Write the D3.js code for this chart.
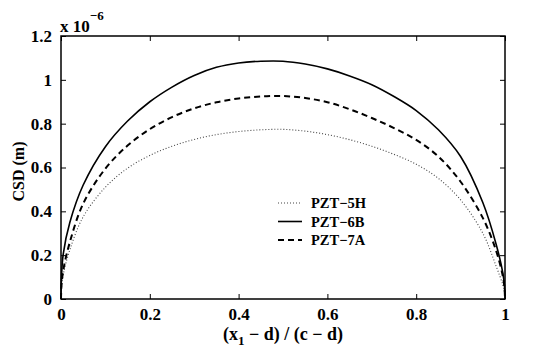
<!DOCTYPE html>
<html>
<head>
<meta charset="utf-8">
<script src="https://cdn.jsdelivr.net/npm/d3@7"></script>
<style>
  body { margin: 0; background: #fff; }
  text { font-family: "Liberation Serif", "Times New Roman", serif; font-weight: bold; fill: #000; }
</style>
</head>
<body>
<div id="chart-container"></div>
<script>
// normalised crack position (x1 - d) / (c - d)
const positions = [0, 0.001, 0.005, 0.02, 0.05, 0.1, 0.15, 0.2, 0.25, 0.3, 0.35, 0.4, 0.45, 0.5,
  0.55, 0.6, 0.65, 0.7, 0.75, 0.8, 0.85, 0.9, 0.95, 0.98, 0.995, 0.999, 1];

// CSD in units of 1e-6 m
const pzt5H = [0, 0.05, 0.11, 0.225, 0.375, 0.51, 0.597, 0.655, 0.697, 0.728, 0.75, 0.764, 0.772, 0.774,
  0.766, 0.75, 0.727, 0.697, 0.66, 0.615, 0.55, 0.452, 0.30, 0.15, 0.065, 0.03, 0];
const pzt6B = [0, 0.094, 0.205, 0.35, 0.52, 0.695, 0.812, 0.90, 0.967, 1.02, 1.057, 1.077, 1.085, 1.085,
  1.072, 1.05, 1.018, 0.978, 0.924, 0.86, 0.772, 0.65, 0.44, 0.25, 0.12, 0.055, 0];
const pzt7A = [0, 0.058, 0.13, 0.26, 0.435, 0.595, 0.70, 0.775, 0.83, 0.87, 0.8975, 0.915, 0.924, 0.926,
  0.917, 0.898, 0.866, 0.826, 0.78, 0.726, 0.65, 0.535, 0.37, 0.22, 0.105, 0.047, 0];

const seriesNames = ["PZT\u22125H", "PZT\u22126B", "PZT\u22127A"];
const xTicks = [0, 0.2, 0.4, 0.6, 0.8, 1];
const yTicks = [0, 0.2, 0.4, 0.6, 0.8, 1, 1.2];

const width = 536;
const height = 356;
const margin = { top: 36, right: 31, bottom: 57, left: 61 };

//line styles per series
const styles = [
  { width: 1.1, dash: "1,2", color: "#444" },
  { width: 1.6, dash: null, color: "#000" },
  { width: 2, dash: "6,4", color: "#000" }
];

const svg = d3.select("#chart-container")
  .append("svg")
  .attr("width", width)
  .attr("height", height);

const x = d3.scaleLinear().domain([0, 1]).range([margin.left, width - margin.right]);
const y = d3.scaleLinear().domain([0, 1.2]).range([height - margin.bottom, margin.top]);

const plotW = width - margin.left - margin.right;
const plotH = height - margin.top - margin.bottom;

//axes with inward ticks on all four sides
svg.append("g")
  .attr("transform", `translate(0,${height - margin.bottom})`)
  .call(d3.axisBottom(x).tickValues(xTicks).tickSize(-5).tickPadding(9).tickFormat(d3.format("")))
  .call((g) => g.select(".domain").remove());
svg.append("g")
  .attr("transform", `translate(0,${margin.top})`)
  .call(d3.axisTop(x).tickValues(xTicks).tickSize(-5).tickFormat(""))
  .call((g) => g.select(".domain").remove());
svg.append("g")
  .attr("transform", `translate(${margin.left},0)`)
  .call(d3.axisLeft(y).tickValues(yTicks).tickSize(-5).tickPadding(9).tickFormat(d3.format("")))
  .call((g) => g.select(".domain").remove());
svg.append("g")
  .attr("transform", `translate(${width - margin.right},0)`)
  .call(d3.axisRight(y).tickValues(yTicks).tickSize(-5).tickFormat(""))
  .call((g) => g.select(".domain").remove());

svg.selectAll(".tick line").attr("stroke", "#000").attr("stroke-width", 1);
svg.selectAll(".tick text")
  .style("font-size", "17px")
  .style("font-family", "Liberation Serif, serif")
  .style("font-weight", "bold")
  .attr("fill", "#000");

//frame
svg.append("rect")
  .attr("x", margin.left)
  .attr("y", margin.top)
  .attr("width", plotW)
  .attr("height", plotH)
  .attr("fill", "none")
  .attr("stroke", "#000")
  .attr("stroke-width", 1.5);

//curves
const line = d3.line()
  .x((d) => x(d[0]))
  .y((d) => y(d[1]))
  .curve(d3.curveCatmullRom.alpha(0.5));

[pzt5H, pzt6B, pzt7A].forEach((vals, i) => {
  svg.append("path")
    .datum(positions.map((p, j) => [p, vals[j]]))
    .attr("d", line)
    .attr("fill", "none")
    .attr("stroke", styles[i].color)
    .attr("stroke-width", styles[i].width)
    .attr("stroke-dasharray", styles[i].dash);
});

//legend
const l_x = 278;
const l_len = 24;
const l_y = 203;
const l_dy = 18.5;
for (let i = 0; i < seriesNames.length; i++) {
  svg.append("line")
    .attr("x1", l_x)
    .attr("x2", l_x + l_len)
    .attr("y1", l_y + l_dy * i)
    .attr("y2", l_y + l_dy * i)
    .attr("stroke", styles[i].color)
    .attr("stroke-width", styles[i].width)
    .attr("stroke-dasharray", styles[i].dash);
  svg.append("text")
    .attr("x", l_x + l_len + 9)
    .attr("y", l_y + l_dy * i + 5)
    .style("font-size", "14.5px")
    .text(seriesNames[i]);
}

//axis labels
const xl = svg.append("text")
  .attr("x", (margin.left + width - margin.right) / 2)
  .attr("y", 340)
  .attr("text-anchor", "middle")
  .style("font-size", "18px");
xl.append("tspan").text("(x");
xl.append("tspan").attr("dy", 5).style("font-size", "13px").text("1");
xl.append("tspan").attr("dy", -5).text(" \u2212 d) / (c \u2212 d)");

svg.append("text")
  .attr("transform", `translate(24,${(margin.top + height - margin.bottom) / 2 + 4}) rotate(-90)`)
  .attr("text-anchor", "middle")
  .style("font-size", "16px")
  .text("CSD (m)");

//exponent
const ex = svg.append("text")
  .attr("x", 60)
  .attr("y", 32)
  .style("font-size", "17px");
ex.append("tspan").text("x 10");
ex.append("tspan").attr("dy", -12).style("font-size", "13px").text("\u22126");
</script>
</body>
</html>
